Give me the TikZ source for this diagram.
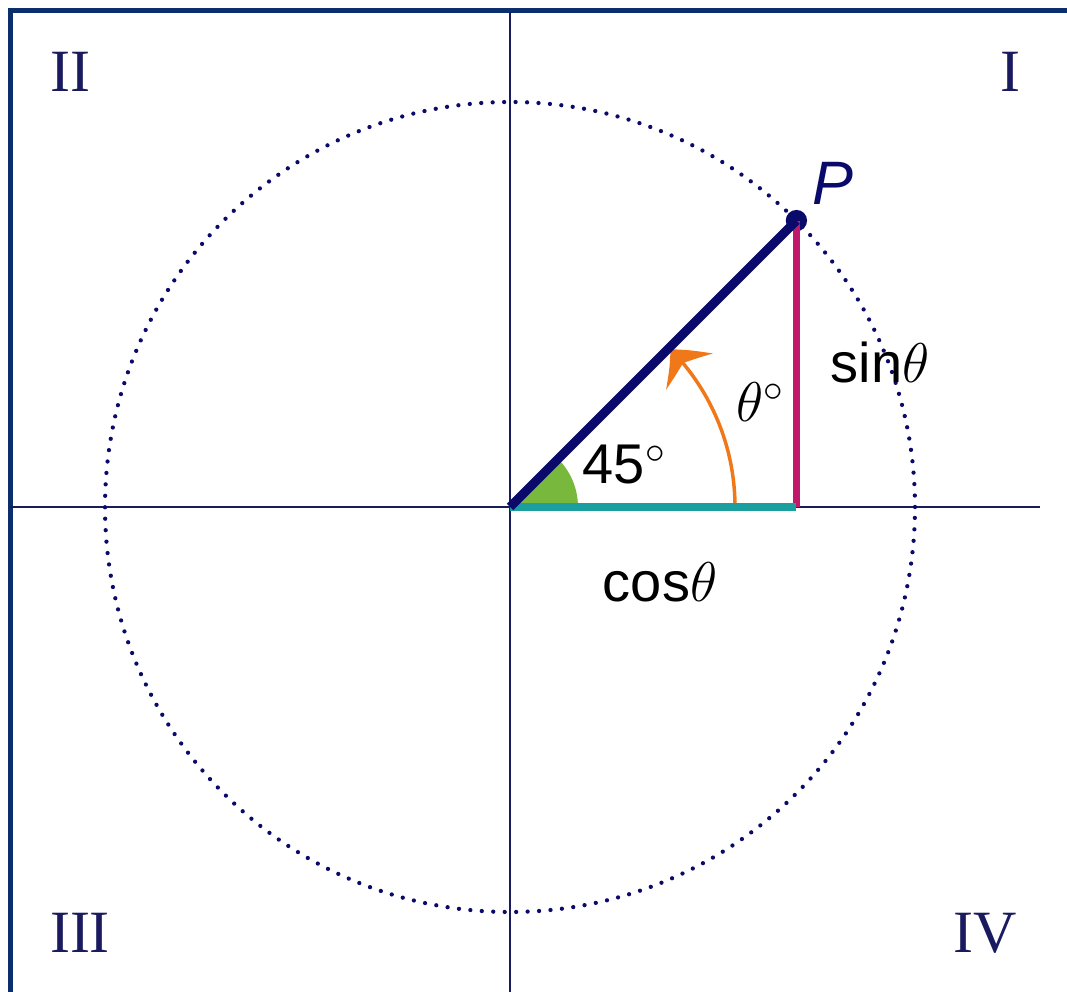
\RequirePackage{fix-cm}
\documentclass[tikz,border=0pt]{standalone}
\usepackage{fontspec}
\setmainfont{Liberation Sans}
\newfontfamily\romanfont{Liberation Serif}
\usetikzlibrary{arrows.meta,bending}
\definecolor{navy}{HTML}{0A0A6A}
\definecolor{axisc}{HTML}{1A1A5E}
\definecolor{framec}{HTML}{0A2E6E}
\definecolor{sinc}{HTML}{C0186A}
\definecolor{cosc}{HTML}{1A9E9E}
\definecolor{arcc}{HTML}{F07818}
\definecolor{wedgec}{HTML}{78B83C}
\tikzset{
  quad/.style={text=axisc, font=\fontsize{45}{50}\selectfont\romanfont, inner sep=0pt},
  lbl/.style={text=black, font=\fontsize{42}{48}\selectfont, inner sep=0pt},
  axisline/.style={draw=axisc, line width=1.5pt},
}
\begin{document}
\begin{tikzpicture}[x=0.75pt,y=0.75pt]
\fill[white] (0,0) rectangle (1067,992);
\useasboundingbox (0,0) rectangle (1067,992);
% frame
\draw[framec, line width=3.75pt] (10.5,0) -- (10.5,981.5) -- (1067,981.5);
% coordinates
\coordinate (O) at (510,485);
\coordinate (F) at (796.4,485);
\coordinate (XL) at (10,485);
\coordinate (XR) at (1040,485);
\coordinate (YB) at (510,0);
\coordinate (YT) at (510,980);
% axes
\draw[axisline] (XL) -- (XR);
\draw[axisline] (YB) -- (YT);
% dotted unit circle
\draw[navy, line width=3.2pt, line cap=round, dash pattern=on 0pt off 8.6pt] (O) circle[radius=303.75pt];
% green wedge
\fill[wedgec] (O) -- ++(51pt,0) arc[start angle=0,end angle=45,radius=51pt] -- cycle;
% orange angle arrow
\draw[arcc, line width=2.6pt, -{Stealth[length=22pt,width=44pt,inset=8pt,bend]}]
  (O) ++(168.75pt,0) arc[start angle=0,end angle=44.5,radius=168.75pt];
% point P
\node[circle, fill=navy, inner sep=0pt, minimum size=16pt] (P) at (796.4,771.4) {};
% segments
\draw[sinc, line width=5.25pt] (P.center) -- (F);
\draw[cosc, line width=6pt] (O) -- (F);
\draw[navy, line width=6.75pt] (O) -- (P.center);
% labels
\node[quad] (q2) at (70,920) {II};
\node[quad] (q1) at (1010,920) {I};
\node[quad] (q3) at (80,59) {III};
\node[quad] (q4) at (985,59) {IV};
\node[text=navy, font=\fontsize{46}{52}\selectfont\itshape, inner sep=0pt] (Pl) at (833,809) {P};
\node[lbl] (a45) at (624,527) {45$^\circ$};
\node[lbl] (th) at (760,590) {$\theta^\circ$};
\node[lbl] (sn) at (880,630) {sin$\theta$};
\node[lbl] (cs) at (660,410) {cos$\theta$};
\end{tikzpicture}
\end{document}
